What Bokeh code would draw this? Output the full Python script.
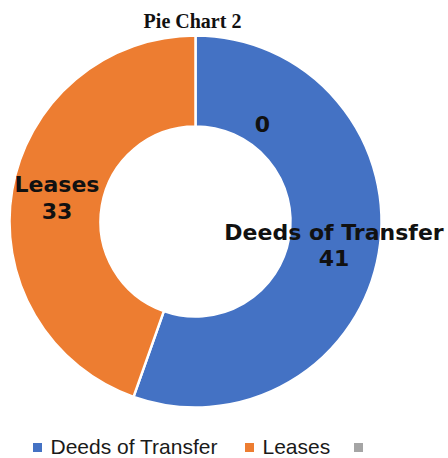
import numpy as np
from bokeh.plotting import figure
from bokeh.models import Range1d, ColumnDataSource
from bokeh.core.properties import value
from bokeh.embed import file_html
from bokeh.resources import INLINE

# ---- data ----
categories = ["Deeds of Transfer", "Leases", ""]
values = [41, 33, 0]
colors = ["#4472C4", "#ED7D31", "#A5A5A5"]
title_text = "Pie Chart 2"

# ---- layout ----
W, H = 448, 458
CX, CY = 195, 237
R_OUT, R_IN = 186, 95
ZERO_LABEL_POS = (262, 335)
TITLE_POS = (192, 438)
LEGEND_MARK_X = [37, 249, 358]
LEGEND_Y = 11

p = figure(width=W, height=H, x_range=Range1d(0, W), y_range=Range1d(0, H),
           output_backend="svg", toolbar_location=None, min_border=0)
p.axis.visible = False
p.grid.visible = False
p.outline_line_color = None

vals = np.array(values, dtype=float)
frac = vals / vals.sum()
ends = np.pi / 2 - 2 * np.pi * np.cumsum(frac)
starts = np.concatenate([[np.pi / 2], ends[:-1]])
mids = (starts + ends) / 2

nz = vals > 0
src = ColumnDataSource(dict(start=starts[nz], end=ends[nz],
                            color=[c for c, k in zip(colors, nz) if k]))
p.annular_wedge(x=CX, y=CY, inner_radius=R_IN, outer_radius=R_OUT,
                start_angle="start", end_angle="end", direction="clock",
                fill_color="color", line_color="white", line_width=2.5, source=src)

# data labels
r_mid = (R_IN + R_OUT) / 2
lx, ly, lname, lval = [], [], [], []
for i in range(len(values)):
    if values[i] > 0:
        x = CX + r_mid * np.cos(mids[i])
        y = CY + r_mid * np.sin(mids[i])
        lx.append(x); ly.append(y)
        lname.append(categories[i]); lval.append(str(values[i]))
lab_font = value("DejaVu Sans")
p.text(x=lx, y=[v + 13 for v in ly], text=lname, text_font=lab_font,
       text_font_size="22px", text_font_style="bold", text_color="#111111",
       text_align="center", text_baseline="middle")
p.text(x=lx, y=[v - 13 for v in ly], text=lval, text_font=lab_font,
       text_font_size="22px", text_font_style="bold", text_color="#111111",
       text_align="center", text_baseline="middle")
zeros = [str(v) for v in values if v == 0]
if zeros:
    p.text(x=[ZERO_LABEL_POS[0]], y=[ZERO_LABEL_POS[1]], text=zeros[:1], text_font=lab_font,
           text_font_size="22px", text_font_style="bold", text_color="#111111",
           text_align="center", text_baseline="middle")

# title
p.text(x=[TITLE_POS[0]], y=[TITLE_POS[1]], text=[title_text], text_font=value("Liberation Serif"),
       text_font_size="20px", text_font_style="bold", text_color="#111111",
       text_align="center", text_baseline="middle")

# legend
p.scatter(x=LEGEND_MARK_X, y=[LEGEND_Y] * 3, marker="square", size=9,
          fill_color=colors, line_color=None)
p.text(x=[x + 13 for x in LEGEND_MARK_X], y=[LEGEND_Y + 1] * 3, text=categories,
       text_font=value("Liberation Sans"), text_font_size="21px", text_color="#1a1a1a",
       text_align="left", text_baseline="middle")

open("out.html", "w").write(file_html(p, INLINE))
